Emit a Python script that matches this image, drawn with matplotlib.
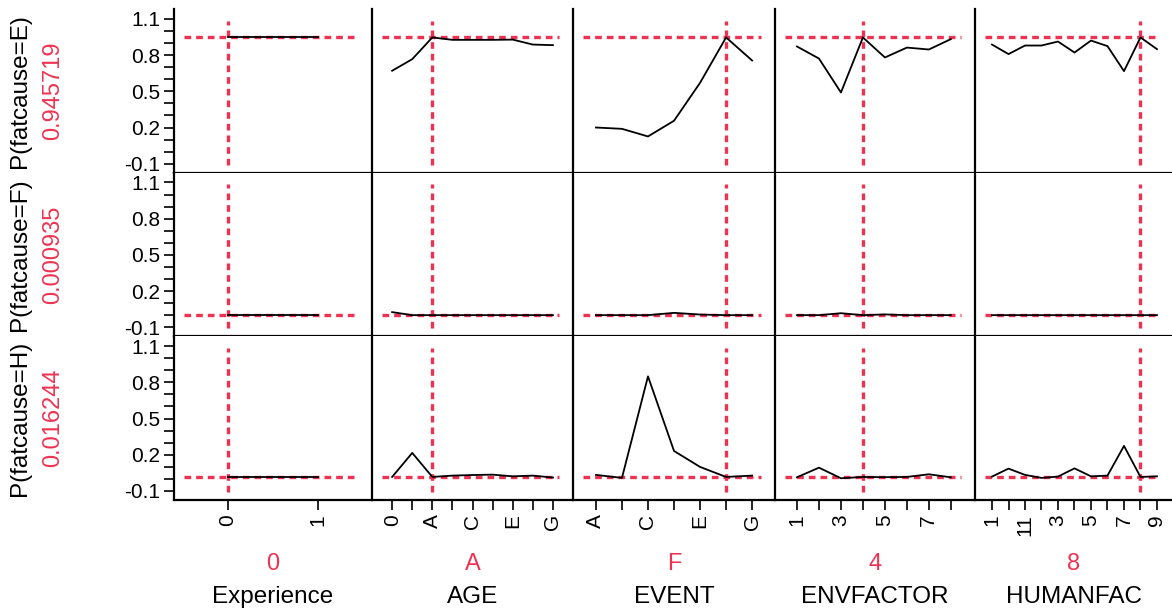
import numpy as np
import matplotlib.pyplot as plt

plt.rcParams['font.family'] = ['Liberation Sans', 'DejaVu Sans']

# factor levels
exp_levels = [0, 1]
age_levels = ["0", "1", "A", "B", "C", "D", "E", "F", "G"]
event_levels = ["A", "B", "C", "D", "E", "F", "G"]
env_levels = ["1", "2", "3", "4", "5", "6", "7", "8"]
human_levels = ["1", "10", "11", "2", "3", "4", "5", "6", "7", "8", "9"]

# current settings of the profiler
current_settings = ["0", "A", "F", "4", "8"]
factor_names = ["Experience", "AGE", "EVENT", "ENVFACTOR", "HUMANFAC"]

# responses and their predicted value at the current settings
responses = ["P(fatcause=E)", "P(fatcause=F)", "P(fatcause=H)"]
current_values = [0.945719, 0.000935, 0.016244]

# profile traces, fatcause = E
e_exp = [0.9457, 0.9457]
e_age = [0.670, 0.766, 0.946, 0.926, 0.926, 0.926, 0.928, 0.887, 0.882]
e_event = [0.200, 0.189, 0.126, 0.256, 0.570, 0.946, 0.755]
e_env = [0.871, 0.771, 0.490, 0.946, 0.780, 0.862, 0.846, 0.932]
e_human = [0.887, 0.808, 0.879, 0.879, 0.912, 0.821, 0.920, 0.874, 0.667, 0.946, 0.849]

# fatcause = F
f_exp = [0.0009, 0.0009]
f_age = [0.026, 0.001, 0.0009, 0.001, 0.001, 0.001, 0.001, 0.001, 0.001]
f_event = [0.001, 0.001, 0.001, 0.020, 0.006, 0.0009, 0.001]
f_env = [0.001, 0.001, 0.017, 0.0009, 0.007, 0.001, 0.001, 0.001]
f_human = [0.001, 0.001, 0.001, 0.001, 0.001, 0.001, 0.001, 0.001, 0.001, 0.0009, 0.001]

# fatcause = H
h_exp = [0.0162, 0.0162]
h_age = [0.016, 0.215, 0.016, 0.027, 0.032, 0.035, 0.021, 0.027, 0.011]
h_event = [0.033, 0.008, 0.849, 0.231, 0.099, 0.016, 0.027]
h_env = [0.013, 0.093, 0.005, 0.016, 0.014, 0.016, 0.038, 0.013]
h_human = [0.019, 0.085, 0.033, 0.008, 0.019, 0.087, 0.021, 0.027, 0.273, 0.016, 0.021]

traces = [
    [e_exp, e_age, e_event, e_env, e_human],
    [f_exp, f_age, f_event, f_env, f_human],
    [h_exp, h_age, h_event, h_env, h_human],
]
levels = [exp_levels, age_levels, event_levels, env_levels, human_levels]

red = "#EE3352"
tick_fs = 15
label_fs = 17.5

# x limits per column (category index units), experience is numeric
xlims = [(-0.6, 1.6), (-1.0, 9.0), (-0.88, 6.88), (-1.0, 8.1), (-1.03, 10.91)]

fig = plt.figure(figsize=(11.72, 6.12), dpi=100)
gs = fig.add_gridspec(3, 5, left=0.1485, right=1.0, top=0.985, bottom=0.183,
                      hspace=0, wspace=0, width_ratios=[198, 201, 202, 200, 197])

for r in range(3):
    for c in range(5):
        ax = fig.add_subplot(gs[r, c])
        lev = levels[c]
        if c == 0:
            xs = np.array(lev, dtype=float)
            cur_x = float(current_settings[0])
        else:
            xs = np.arange(len(lev))
            cur_x = lev.index(current_settings[c])

        ax.plot(xs, traces[r][c], color="black", lw=1.3, zorder=3)
        ax.axhline(current_values[r], xmin=0.05, xmax=0.93, color=red,
                   lw=2.4, dashes=(2.0, 1.5), zorder=2)
        ax.axvline(cur_x, ymin=0.05, ymax=0.93, color=red,
                   lw=2.4, dashes=(2.0, 1.5), zorder=2)

        ax.set_xlim(*xlims[c])
        ax.set_ylim(-0.175, 1.18)
        ax.spines["top"].set_visible(False)
        ax.spines["right"].set_visible(False)
        ax.spines["left"].set_linewidth(1.6)
        ax.spines["bottom"].set_linewidth(1.6)

        # y axis only on the first column
        if c == 0:
            ax.set_yticks([-0.1, 0.2, 0.5, 0.8, 1.1])
            ax.set_yticklabels(["-0.1", "0.2", "0.5", "0.8", "1.1"])
            ax.set_yticks(np.arange(-0.1, 1.15, 0.1), minor=True)
            ax.tick_params(axis="y", which="both", direction="out", length=7.5,
                           width=1.2, labelsize=tick_fs, pad=2.5)
        else:
            ax.set_yticks([])

        # x axis only on the bottom row
        if r == 2:
            if c == 0:
                ax.set_xticks(xs)
                ax.set_xticklabels([str(v) for v in lev], rotation=90)
            else:
                ax.set_xticks(xs)
                ax.set_xticklabels([l if i % 2 == 0 else "" for i, l in enumerate(lev)],
                                   rotation=90)
            ax.tick_params(axis="x", direction="out", length=7, width=1.2,
                           labelsize=tick_fs, pad=3)
        else:
            ax.set_xticks([])

        pos = ax.get_position()
        if c == 0:
            yc = (pos.y0 + pos.y1) / 2
            fig.text(20 / 1172, yc, responses[r], rotation=90, ha="center",
                     va="center", fontsize=label_fs, color="black")
            fig.text(53 / 1172, yc, "%.6f" % current_values[r], rotation=90,
                     ha="center", va="center", fontsize=17, color=red)
        if r == 2:
            xc = (pos.x0 + pos.x1) / 2
            fig.text(xc, 1 - 564 / 612, current_settings[c], ha="center",
                     va="center", fontsize=17, color=red)
            fig.text(xc, 1 - 597 / 612, factor_names[c], ha="center",
                     va="center", fontsize=label_fs, color="black")

plt.savefig("out.png", dpi=100)
